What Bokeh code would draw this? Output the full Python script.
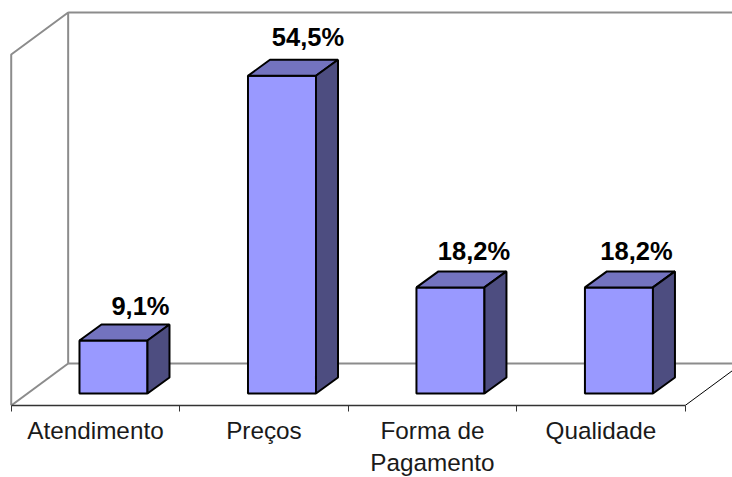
from bokeh.plotting import figure
from bokeh.embed import file_html
from bokeh.resources import INLINE
from bokeh.models import FixedTicker, Range1d, LinearAxis, ColumnDataSource
from bokeh.core.properties import value

categories = ["Atendimento", "Preços", "Forma de\nPagamento", "Qualidade"]
values = [9.1, 54.5, 18.2, 18.2]
labels = ["9,1%", "54,5%", "18,2%", "18,2%"]

FRONT, TOP, SIDE = "#9999FF", "#7373BF", "#4D4D80"
GREY = "#8C8C8C"

half = 0.2018
ddx, ddy = 0.1306, 2.744
shift = 0.107
wall_left, wall_right = -0.5 - shift, 3.5 - shift
floor_y, wall_top = -2.058, 58.15
back_dx, back_dy = 0.338, 7.2
label_dx = [27, 26, 23.5, 17.5]
label_dy = [-20, -25, -22, -22]

xs = list(range(len(values)))

p = figure(width=732, height=477, frame_width=732, frame_height=405,
           output_backend="svg", toolbar_location=None,
           x_range=Range1d(-0.6706, 3.674), y_range=Range1d(-2.058, 67.41),
           x_axis_location=None, y_axis_location=None,
           min_border=0, min_border_left=0, min_border_right=0, min_border_top=0, min_border_bottom=0)
p.outline_line_color = None
p.grid.visible = False

# walls and floor
bx0, bx1 = wall_left + back_dx, wall_right + back_dx
by0, by1 = floor_y + back_dy, wall_top + back_dy
p.line([wall_left, wall_left, bx0, bx0, bx0], [floor_y, wall_top, by1, by0, by1], line_color=GREY, line_width=2)
p.line([bx0, 4.2], [by1, by1], line_color=GREY, line_width=2)
p.line([bx0, 4.2], [by0, by0], line_color=GREY, line_width=2)
p.line([wall_left, bx0], [floor_y, by0], line_color=GREY, line_width=2)
p.line([wall_right, bx1], [floor_y, by0], line_color="#000000", line_width=1)

# bars
src = ColumnDataSource(dict(x=xs, v=values, lab=labels, dx=label_dx, dy=label_dy))
p.vbar(x="x", bottom=0, top="v", width=2 * half, source=src,
       fill_color=FRONT, line_color="#000000", line_width=2)
p.patches([[x - half, x - half + ddx, x + half + ddx, x + half] for x in xs],
          [[v, v + ddy, v + ddy, v] for v in values],
          fill_color=TOP, line_color="#000000", line_width=2)
p.patches([[x + half, x + half + ddx, x + half + ddx, x + half] for x in xs],
          [[v, v + ddy, ddy, 0] for v in values],
          fill_color=SIDE, line_color="#000000", line_width=2)

p.text(x="x", y="v", text="lab", source=src, x_offset="dx", y_offset="dy",
       text_align="center", text_baseline="bottom", text_color="#000000",
       text_font=value("Liberation Sans"), text_font_style="bold", text_font_size="25.5px")

# category axis with ticks between the categories
label_pos = [x - shift for x in xs]
ax = LinearAxis(ticker=FixedTicker(ticks=label_pos, minor_ticks=[wall_left + i for i in range(5)]))
ax.major_label_overrides = {pos: c for pos, c in zip(label_pos, categories)}
ax.bounds = (wall_left, wall_right)
ax.axis_line_color = "#333333"
ax.axis_line_width = 1.5
ax.major_tick_line_color = None
ax.major_tick_out = 0
ax.major_tick_in = 0
ax.minor_tick_line_color = "#333333"
ax.minor_tick_line_width = 1
ax.minor_tick_out = 6
ax.minor_tick_in = 0
ax.major_label_standoff = 5
ax.major_label_text_font = "Liberation Sans"
ax.major_label_text_font_size = "24.3px"
ax.major_label_text_color = "#1a1a1a"
ax.major_label_orientation = "horizontal"
p.add_layout(ax, "below")

open("out.html", "w").write(file_html(p, INLINE))
